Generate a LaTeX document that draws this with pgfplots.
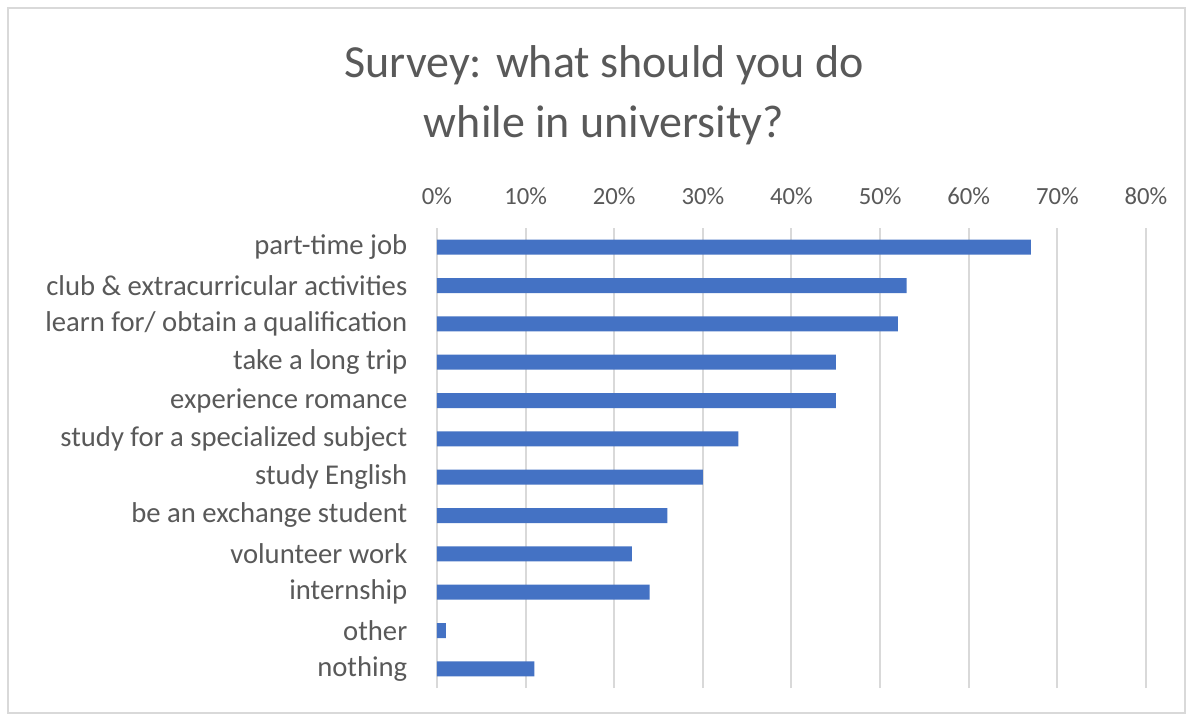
\documentclass[border=0pt]{standalone}
\usepackage{pgfplots}
\pgfplotsset{compat=1.18}
\usepackage{fontspec}
\setmainfont{Carlito}
\definecolor{barblue}{HTML}{4472C4}
\definecolor{gridgray}{HTML}{D9D9D9}
\definecolor{txtgray}{HTML}{595959}
\begin{document}
\begin{tikzpicture}[x=1pt,y=1pt]
\fill[white] (0,0) rectangle (894,539.25);
\draw[gridgray, line width=1.5pt] (6,4.5) rectangle (888.5,533.5);
\begin{axis}[at={(327.75pt,23.25pt)}, anchor=south west, scale only axis,
  width=531.75pt, height=345pt,
  xbar, bar width=11.25pt, xmin=0, xmax=80, ymin=0.5, ymax=12.5,
  ytick={1,...,12},
  yticklabels={nothing, other, internship, volunteer work, be an exchange student, study English, study for a specialized subject, experience romance, take a long trip, learn for/ obtain a qualification, club \& extracurricular activities, part-time job},
  axis line style={draw=none}, tick style={draw=none},
  xmajorgrids, grid style={gridgray, line width=1.5pt},
  xtick={0,10,...,80}, xticklabel={\pgfmathprintnumber{\tick}\%}, xticklabel pos=upper,
  ticklabel style={text=txtgray},
  xticklabel style={yshift=14pt, font=\fontsize{18.5}{22}\selectfont},
  yticklabel style={xshift=-14.5pt, font=\fontsize{21.5}{25}\selectfont},
  /pgf/number format/assume math mode=true,
]
\addplot[fill=barblue, draw=none] coordinates {(11,1) (1,2) (24,3) (22,4) (26,5) (30,6) (34,7) (45,8) (45,9) (52,10) (53,11) (67,12)};
\end{axis}
\node[align=center, text=txtgray, font=\fontsize{34.5}{45}\selectfont] at (453,468) {Survey: what should you do\\while in university?};
\end{tikzpicture}
\end{document}
